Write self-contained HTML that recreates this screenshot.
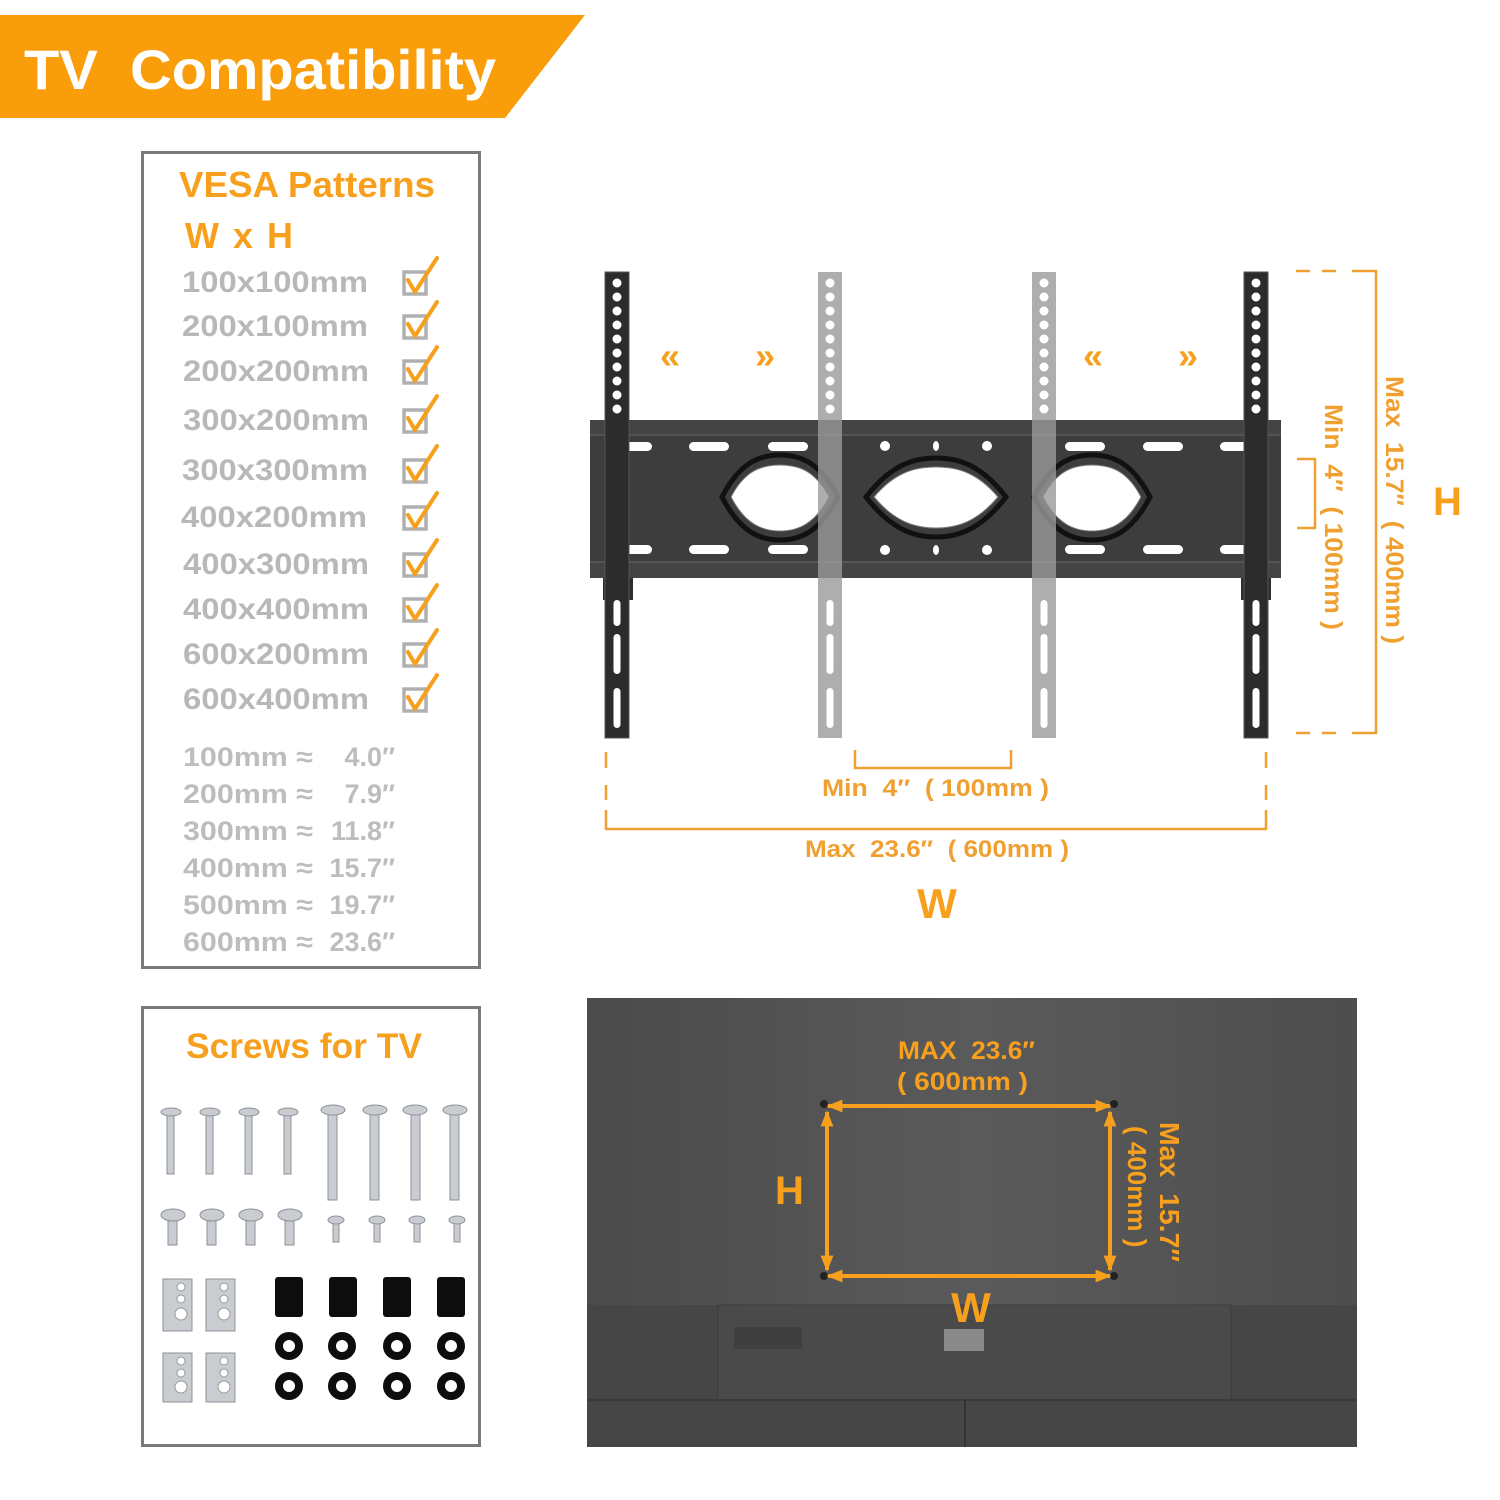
<!DOCTYPE html>
<html><head><meta charset="utf-8"><style>
html,body{margin:0;padding:0;background:#fff;}
svg{display:block;}
text{font-family:"Liberation Sans","DejaVu Sans",sans-serif;white-space:pre;}
</style></head><body>
<svg width="1500" height="1500" viewBox="0 0 1500 1500" xmlns="http://www.w3.org/2000/svg" xml:space="preserve">
<defs>
  <g id="tophole">
    <circle cx="0" cy="283" r="4.5"/><circle cx="0" cy="297" r="4.5"/><circle cx="0" cy="311" r="4.5"/>
    <circle cx="0" cy="325" r="4.5"/><circle cx="0" cy="339" r="4.5"/><circle cx="0" cy="353" r="4.5"/>
    <circle cx="0" cy="367" r="4.5"/><circle cx="0" cy="381" r="4.5"/><circle cx="0" cy="395" r="4.5"/>
    <circle cx="0" cy="409" r="4.5"/>
    <rect x="-3.5" y="600" width="7" height="26" rx="3.5"/>
    <rect x="-3.5" y="634" width="7" height="40" rx="3.5"/>
    <rect x="-3.5" y="688" width="7" height="40" rx="3.5"/>
  </g>
  <g id="chk">
    <rect x="2" y="6" width="22" height="22" fill="none" stroke="#b0b0b0" stroke-width="3.5"/>
    <path d="M6 14 L13 26 L35 -8" fill="none" stroke="#f7a01e" stroke-width="4" stroke-linecap="round" stroke-linejoin="round"/>
  </g>
  <linearGradient id="tvg" x1="0" y1="0" x2="1" y2="0">
    <stop offset="0" stop-color="#4b4b4b"/><stop offset="0.5" stop-color="#5a5a5a"/><stop offset="1" stop-color="#4e4e4e"/>
  </linearGradient>
  <marker id="ah" viewBox="0 0 10 10" refX="9" refY="5" markerWidth="4" markerHeight="4" orient="auto-start-reverse">
    <path d="M0 1 L10 5 L0 9 Z" fill="#f7a01e"/>
  </marker>
</defs>

<polygon points="0,15 585,15 505,118 0,118" fill="#f99d0a"/>
<text x="24" y="89" font-size="56" font-weight="bold" fill="#fff" textLength="472" lengthAdjust="spacingAndGlyphs">TV  Compatibility</text>

<rect x="142.5" y="152.5" width="337" height="815" fill="#fff" stroke="#7a7a7a" stroke-width="3"/>
<text x="179" y="197" font-size="36" font-weight="bold" fill="#f7a01e" textLength="256" lengthAdjust="spacingAndGlyphs">VESA Patterns</text>
<text x="185" y="248" font-size="36" font-weight="bold" fill="#f7a01e" textLength="108" lengthAdjust="spacing">W x H</text>
<g font-size="30" font-weight="bold" fill="#b8b8b8">
  <text x="182" y="292" textLength="186" lengthAdjust="spacingAndGlyphs">100x100mm</text>
  <text x="182" y="336" textLength="186" lengthAdjust="spacingAndGlyphs">200x100mm</text>
  <text x="183" y="381" textLength="186" lengthAdjust="spacingAndGlyphs">200x200mm</text>
  <text x="183" y="430" textLength="186" lengthAdjust="spacingAndGlyphs">300x200mm</text>
  <text x="182" y="480" textLength="186" lengthAdjust="spacingAndGlyphs">300x300mm</text>
  <text x="181" y="527" textLength="186" lengthAdjust="spacingAndGlyphs">400x200mm</text>
  <text x="183" y="574" textLength="186" lengthAdjust="spacingAndGlyphs">400x300mm</text>
  <text x="183" y="619" textLength="186" lengthAdjust="spacingAndGlyphs">400x400mm</text>
  <text x="183" y="664" textLength="186" lengthAdjust="spacingAndGlyphs">600x200mm</text>
  <text x="183" y="709" textLength="186" lengthAdjust="spacingAndGlyphs">600x400mm</text>
</g>
<use href="#chk" x="402" y="266"/><use href="#chk" x="402" y="310"/><use href="#chk" x="402" y="355"/>
<use href="#chk" x="402" y="404"/><use href="#chk" x="402" y="454"/><use href="#chk" x="402" y="501"/>
<use href="#chk" x="402" y="548"/><use href="#chk" x="402" y="593"/><use href="#chk" x="402" y="638"/>
<use href="#chk" x="402" y="683"/>
<g font-size="27" font-weight="bold" fill="#bdbdbd">
  <text x="183" y="766" textLength="130" lengthAdjust="spacingAndGlyphs">100mm ≈</text><text x="395" y="766" text-anchor="end">4.0″</text>
  <text x="183" y="803" textLength="130" lengthAdjust="spacingAndGlyphs">200mm ≈</text><text x="395" y="803" text-anchor="end">7.9″</text>
  <text x="183" y="840" textLength="130" lengthAdjust="spacingAndGlyphs">300mm ≈</text><text x="395" y="840" text-anchor="end">11.8″</text>
  <text x="183" y="877" textLength="130" lengthAdjust="spacingAndGlyphs">400mm ≈</text><text x="395" y="877" text-anchor="end">15.7″</text>
  <text x="183" y="914" textLength="130" lengthAdjust="spacingAndGlyphs">500mm ≈</text><text x="395" y="914" text-anchor="end">19.7″</text>
  <text x="183" y="951" textLength="130" lengthAdjust="spacingAndGlyphs">600mm ≈</text><text x="395" y="951" text-anchor="end">23.6″</text>
</g>

<rect x="142.5" y="1007.5" width="337" height="438" fill="#fff" stroke="#7a7a7a" stroke-width="3"/>
<text x="186" y="1058" font-size="35" font-weight="bold" fill="#f7a01e" textLength="236" lengthAdjust="spacingAndGlyphs">Screws for TV</text>
<g fill="#c9ccd0" stroke="#8d9196" stroke-width="1">
  <rect x="167" y="1112" width="7" height="62"/><ellipse cx="171" cy="1112" rx="10" ry="4"/>
  <rect x="206" y="1112" width="7" height="62"/><ellipse cx="210" cy="1112" rx="10" ry="4"/>
  <rect x="245" y="1112" width="7" height="62"/><ellipse cx="249" cy="1112" rx="10" ry="4"/>
  <rect x="284" y="1112" width="7" height="62"/><ellipse cx="288" cy="1112" rx="10" ry="4"/>
  <rect x="328" y="1110" width="9" height="90"/><ellipse cx="333" cy="1110" rx="12" ry="5"/>
  <rect x="370" y="1110" width="9" height="90"/><ellipse cx="375" cy="1110" rx="12" ry="5"/>
  <rect x="411" y="1110" width="9" height="90"/><ellipse cx="415" cy="1110" rx="12" ry="5"/>
  <rect x="450" y="1110" width="9" height="90"/><ellipse cx="455" cy="1110" rx="12" ry="5"/>
  <rect x="168" y="1215" width="9" height="30"/><ellipse cx="173" cy="1215" rx="12" ry="6"/>
  <rect x="207" y="1215" width="9" height="30"/><ellipse cx="212" cy="1215" rx="12" ry="6"/>
  <rect x="246" y="1215" width="9" height="30"/><ellipse cx="251" cy="1215" rx="12" ry="6"/>
  <rect x="285" y="1215" width="9" height="30"/><ellipse cx="290" cy="1215" rx="12" ry="6"/>
  <rect x="333" y="1220" width="6" height="22"/><ellipse cx="336" cy="1220" rx="8" ry="4"/>
  <rect x="374" y="1220" width="6" height="22"/><ellipse cx="377" cy="1220" rx="8" ry="4"/>
  <rect x="414" y="1220" width="6" height="22"/><ellipse cx="417" cy="1220" rx="8" ry="4"/>
  <rect x="454" y="1220" width="6" height="22"/><ellipse cx="457" cy="1220" rx="8" ry="4"/>
  <rect x="163" y="1279" width="29" height="52"/><rect x="206" y="1279" width="29" height="52"/>
  <rect x="163" y="1353" width="29" height="49"/><rect x="206" y="1353" width="29" height="49"/>
</g>
<g fill="#fff" stroke="#9a9a9a">
  <circle cx="181" cy="1287" r="4"/><circle cx="181" cy="1299" r="4"/><circle cx="181" cy="1314" r="6"/>
  <circle cx="224" cy="1287" r="4"/><circle cx="224" cy="1299" r="4"/><circle cx="224" cy="1314" r="6"/>
  <circle cx="181" cy="1361" r="4"/><circle cx="181" cy="1373" r="4"/><circle cx="181" cy="1387" r="6"/>
  <circle cx="224" cy="1361" r="4"/><circle cx="224" cy="1373" r="4"/><circle cx="224" cy="1387" r="6"/>
</g>
<g fill="#0d0d0d">
  <rect x="275" y="1277" width="28" height="40" rx="3"/><rect x="329" y="1277" width="28" height="40" rx="3"/>
  <rect x="383" y="1277" width="28" height="40" rx="3"/><rect x="437" y="1277" width="28" height="40" rx="3"/>
</g>
<g fill="none" stroke="#0d0d0d" stroke-width="8">
  <circle cx="289" cy="1346" r="10"/><circle cx="342" cy="1346" r="10"/><circle cx="397" cy="1346" r="10"/><circle cx="451" cy="1346" r="10"/>
  <circle cx="289" cy="1386" r="10"/><circle cx="342" cy="1386" r="10"/><circle cx="397" cy="1386" r="10"/><circle cx="451" cy="1386" r="10"/>
</g>

<rect x="590" y="420" width="691" height="158" fill="#3d3d3d"/>
<rect x="590" y="420" width="691" height="14" fill="#444"/>
<rect x="590" y="562" width="691" height="16" fill="#444"/>
<line x1="590" y1="435" x2="1281" y2="435" stroke="#6a6a6a"/>
<line x1="590" y1="562" x2="1281" y2="562" stroke="#6a6a6a"/>
<g fill="#fff">
  <rect x="612" y="442" width="40" height="9" rx="4.5"/><rect x="689" y="442" width="40" height="9" rx="4.5"/><rect x="768" y="442" width="40" height="9" rx="4.5"/>
  <rect x="1065" y="442" width="40" height="9" rx="4.5"/><rect x="1143" y="442" width="40" height="9" rx="4.5"/><rect x="1220" y="442" width="40" height="9" rx="4.5"/>
  <rect x="612" y="545" width="40" height="9" rx="4.5"/><rect x="689" y="545" width="40" height="9" rx="4.5"/><rect x="768" y="545" width="40" height="9" rx="4.5"/>
  <rect x="1065" y="545" width="40" height="9" rx="4.5"/><rect x="1143" y="545" width="40" height="9" rx="4.5"/><rect x="1220" y="545" width="40" height="9" rx="4.5"/>
  <circle cx="885" cy="446" r="5"/><circle cx="987" cy="446" r="5"/><ellipse cx="936" cy="446" rx="3" ry="5"/>
  <circle cx="885" cy="550" r="5"/><circle cx="987" cy="550" r="5"/><ellipse cx="936" cy="550" rx="3" ry="5"/>
</g>
<g fill="none" stroke="#111" stroke-width="5">
  <path d="M722,497 C740,462 760,455 780,455 C800,455 820,462 838,497 C820,532 800,540 780,540 C760,540 740,532 722,497Z"/>
  <path d="M866,497 C890,466 912,458 936,458 C960,458 982,466 1006,497 C982,528 960,537 936,537 C912,537 890,528 866,497Z"/>
  <path d="M1034,497 C1052,462 1072,455 1092,455 C1112,455 1132,462 1150,497 C1132,532 1112,540 1092,540 C1072,540 1052,532 1034,497Z"/>
</g>
<g fill="#fff" stroke="#777" stroke-width="1">
  <path d="M731,497 C745,470 762,465 780,465 C798,465 815,470 829,497 C815,524 798,531 780,531 C762,531 745,524 731,497Z"/>
  <path d="M874,497 C895,472 915,467 936,467 C957,467 977,472 998,497 C977,522 957,528 936,528 C915,528 895,522 874,497Z"/>
  <path d="M1043,497 C1057,470 1074,465 1092,465 C1110,465 1127,470 1141,497 C1127,524 1110,531 1092,531 C1074,531 1057,524 1043,497Z"/>
</g>
<rect x="603" y="578" width="30" height="22" fill="#2e2e2e"/><rect x="1241" y="578" width="30" height="22" fill="#2e2e2e"/>
<rect x="605" y="272" width="24" height="466" fill="#2c2c2c" stroke="#555" stroke-width="1"/>
<rect x="1244" y="272" width="24" height="466" fill="#2c2c2c" stroke="#555" stroke-width="1"/>
<use href="#tophole" x="617" fill="#fff"/>
<use href="#tophole" x="1256" fill="#fff"/>
<rect x="818" y="272" width="24" height="466" fill="#9a9a9a" opacity="0.8"/>
<rect x="1032" y="272" width="24" height="466" fill="#9a9a9a" opacity="0.8"/>
<use href="#tophole" x="830" fill="#fff"/>
<use href="#tophole" x="1044" fill="#fff"/>

<g font-size="36" font-weight="bold" fill="#f7a01e">
  <text x="660" y="368">«</text><text x="755" y="368">»</text>
  <text x="1083" y="368">«</text><text x="1178" y="368">»</text>
</g>

<g stroke="#f0a030" stroke-width="2.5" fill="none">
  <path d="M1296 271 H1310 M1322 271 H1336 M1352 271 H1376 V733 H1352 M1336 733 H1322 M1310 733 H1296"/>
  <path d="M1297 459 H1315 V528 H1297"/>
</g>
<text transform="translate(1386,376) rotate(90)" font-size="25" font-weight="bold" fill="#f0a030" textLength="268" lengthAdjust="spacingAndGlyphs">Max  15.7″  ( 400mm )</text>
<text transform="translate(1325,404) rotate(90)" font-size="25" font-weight="bold" fill="#f0a030" textLength="226" lengthAdjust="spacingAndGlyphs">Min  4″  ( 100mm )</text>
<text x="1433" y="515" font-size="40" font-weight="bold" fill="#f7a01e">H</text>

<g stroke="#f0a030" stroke-width="2.5" fill="none">
  <path d="M606 752 V768 M606 785 V800 M606 810 V829 H1266 V810 M1266 800 V785 M1266 768 V752"/>
  <path d="M855 750 V768 H1011 V750"/>
</g>
<text x="822" y="796" font-size="24" font-weight="bold" fill="#f0a030" textLength="227" lengthAdjust="spacingAndGlyphs">Min  4″  ( 100mm )</text>
<text x="805" y="857" font-size="24" font-weight="bold" fill="#f0a030" textLength="264" lengthAdjust="spacingAndGlyphs">Max  23.6″  ( 600mm )</text>
<text x="937" y="918" font-size="42" font-weight="bold" fill="#f7a01e" text-anchor="middle">W</text>

<rect x="587" y="998" width="770" height="449" fill="url(#tvg)"/>
<rect x="587" y="1305" width="770" height="142" fill="#464646"/>
<rect x="718" y="1305" width="513" height="95" fill="#4a4a4a" stroke="#3c3c3c"/>
<rect x="734" y="1327" width="68" height="22" fill="#3f3f3f"/>
<rect x="944" y="1329" width="40" height="22" fill="#8a8a8a"/>
<line x1="587" y1="1400" x2="1357" y2="1400" stroke="#3a3a3a" stroke-width="2"/>
<line x1="965" y1="1400" x2="965" y2="1447" stroke="#333" stroke-width="2"/>
<g fill="#222"><circle cx="824" cy="1104" r="4"/><circle cx="1114" cy="1104" r="4"/><circle cx="824" cy="1276" r="4"/><circle cx="1114" cy="1276" r="4"/></g>
<g stroke="#f7a01e" stroke-width="4" fill="none" marker-start="url(#ah)" marker-end="url(#ah)">
  <line x1="828" y1="1106" x2="1110" y2="1106"/>
  <line x1="828" y1="1276" x2="1110" y2="1276"/>
  <line x1="827" y1="1112" x2="827" y2="1270"/>
  <line x1="1110" y1="1112" x2="1110" y2="1270"/>
</g>
<text x="898" y="1059" font-size="25" font-weight="bold" fill="#f7a01e" textLength="137" lengthAdjust="spacingAndGlyphs">MAX  23.6″</text>
<text x="897" y="1090" font-size="25" font-weight="bold" fill="#f7a01e" textLength="131" lengthAdjust="spacingAndGlyphs">( 600mm )</text>
<text x="775" y="1204" font-size="40" font-weight="bold" fill="#f7a01e">H</text>
<text x="971" y="1322" font-size="42" font-weight="bold" fill="#f7a01e" text-anchor="middle">W</text>
<text transform="translate(1160,1122) rotate(90)" font-size="28" font-weight="bold" fill="#f7a01e" textLength="140" lengthAdjust="spacingAndGlyphs">Max  15.7″</text>
<text transform="translate(1128,1126) rotate(90)" font-size="26" font-weight="bold" fill="#f7a01e">( 400mm )</text>
</svg>
</body></html>
